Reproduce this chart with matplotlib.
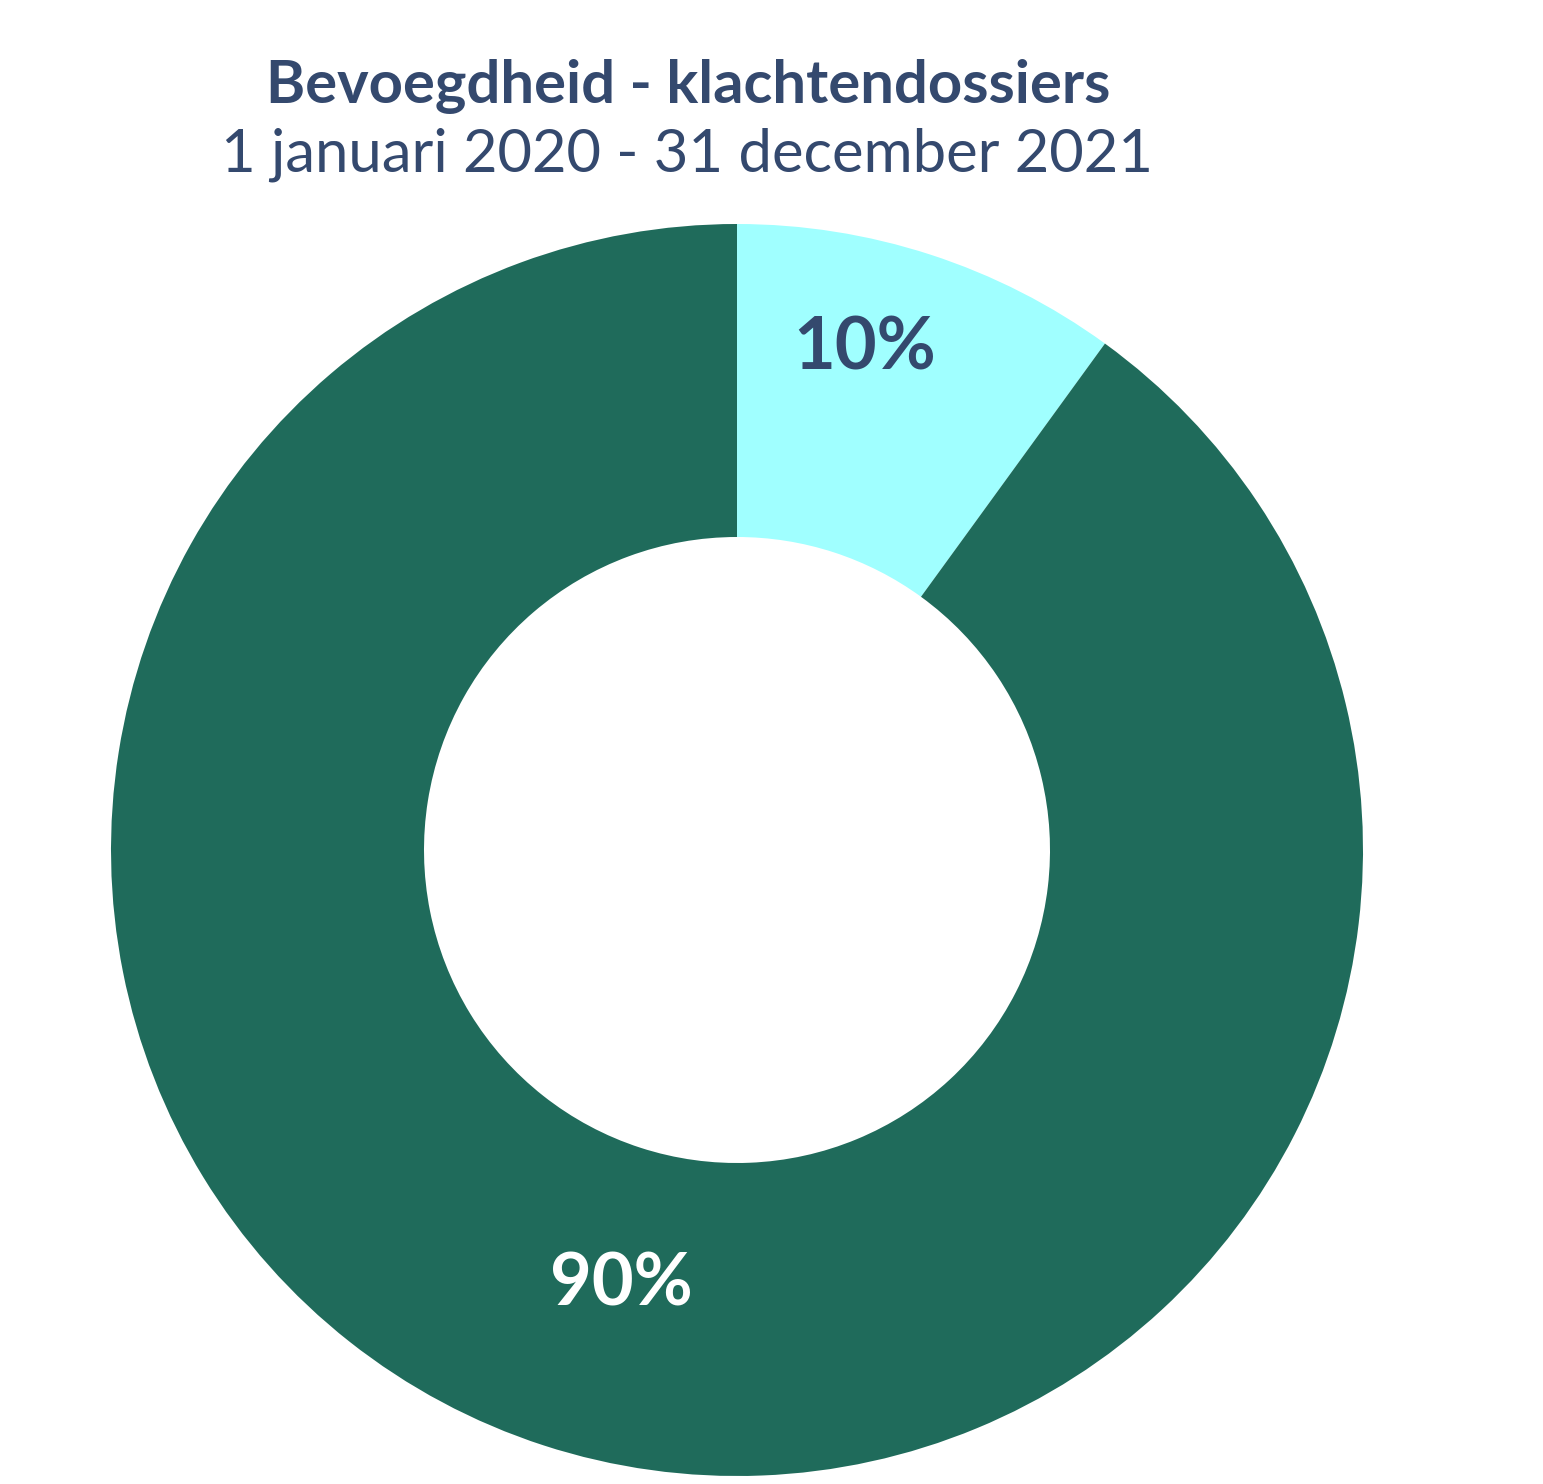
import matplotlib.pyplot as plt

labels = ["Bevoegd", "Niet bevoegd"]
shares = [10, 90]
colors = ["#A0FFFF", "#1F6B5B"]
label_colors = ["#34496E", "white"]
label_pos = [(865, 349), (621, 1285)]  # pixel positions of the % labels

title = "Bevoegdheid - klachtendossiers"
subtitle = "1 januari 2020 - 31 december 2021"

W, H = 1543, 1484
fig = plt.figure(figsize=(W / 100, H / 100), dpi=100)
ax = fig.add_axes([0, 0, 1, 1])

cx, cy, r = 737, H - 850, 626
wedges, texts, autotexts = ax.pie(
    shares, colors=colors, radius=r, center=(cx, cy), startangle=90,
    counterclock=False, wedgeprops=dict(width=r / 2, linewidth=0),
    autopct="%d%%", pctdistance=0.78, frame=True,
    textprops=dict(family="Lato", fontweight="bold", fontsize=52))
for t, c, (px, py) in zip(autotexts, label_colors, label_pos):
    t.set_color(c)
    t.set_position((px, H - py))
ax.set_xlim(0, W)
ax.set_ylim(0, H)
ax.set_aspect("equal")
ax.axis("off")

fig.text(688 / W, 1 - 86 / H, title, ha="center", va="center",
         family="Lato", fontweight="bold", fontsize=43, color="#34496E")
fig.text(687 / W, 1 - 155 / H, subtitle, ha="center", va="center",
         family="Lato", fontsize=43, color="#34496E")

fig.savefig("out.png", dpi=100)
